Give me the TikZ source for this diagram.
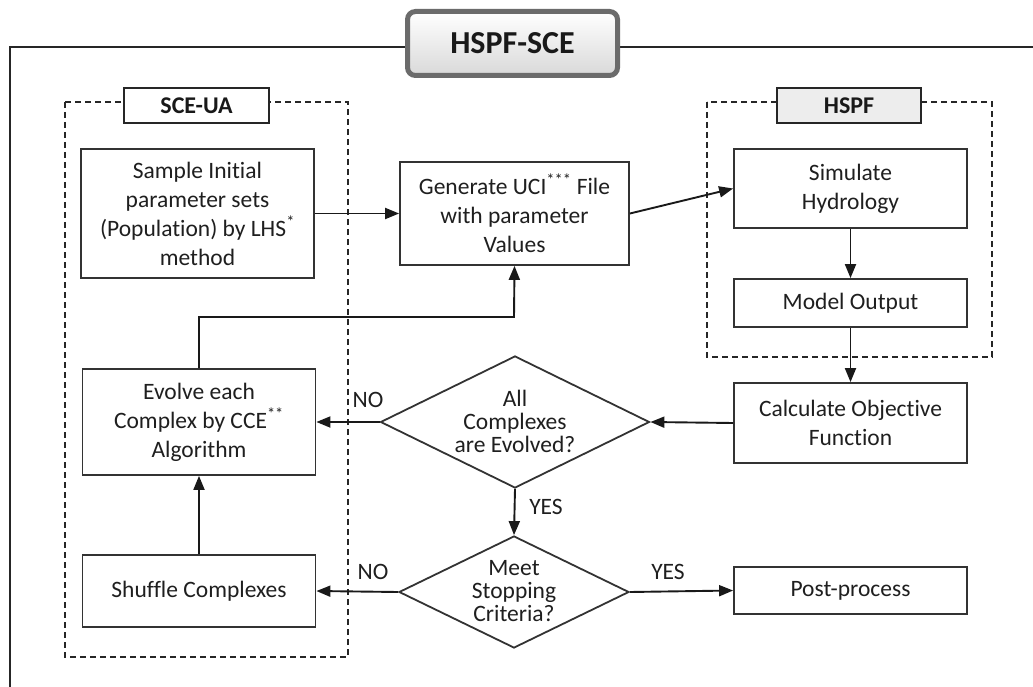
\documentclass[tikz,border=0pt]{standalone}
\usepackage{fontspec}
\setmainfont[Ligatures=NoCommon]{Carlito}
\usetikzlibrary{shapes.geometric,arrows.meta}
\begin{document}
\begin{tikzpicture}[x=1pt,y=-1pt,
  box/.style={draw=black!80, line width=1.8pt, fill=white, align=center, inner sep=0pt, text=black!88, font=\fontsize{23.5}{29}\selectfont},
  dia/.style={draw=black!80, line width=1.8pt, fill=white, diamond, inner sep=0pt},
  diatxt/.style={align=center, inner sep=0pt, text=black!88, font=\fontsize{23.5}{23}\selectfont},
  lbl/.style={inner sep=0pt, text=black!88, font=\fontsize{23.5}{29}\selectfont},
  arr/.style={-{Triangle[length=14pt,width=11pt]}, line width=1.9pt, draw=black!90},
  grp/.style={draw=black!85, line width=1.8pt, dash pattern=on 6pt off 4pt},
  tag/.style={draw=black!85, line width=2.4pt, inner sep=0pt, text=black!90, font=\bfseries\fontsize{24}{29}\selectfont}
]
\useasboundingbox (0,0) rectangle (1033,687);
% outer frame
\draw[line width=2.2pt, draw=black!85] (10,720) -- (10,47) -- (1040,47);
% title
\node[draw=black!58, line width=5pt, rounded corners=8pt, top color=white, bottom color=black!15,
      minimum width=210pt, minimum height=64pt, inner sep=0pt, text=black!90,
      font=\bfseries\fontsize{32}{38}\selectfont] (title) at (512.5,43.5) {HSPF-SCE};
% group boxes
\draw[grp] (65,102) rectangle (348,657);
\draw[grp] (707,102) rectangle (992,357);
\node[tag, fill=white, minimum width=145pt, minimum height=35pt] (tsce) at (196.5,105.5) {SCE-UA};
\node[tag, fill=black!7, minimum width=144pt, minimum height=35pt] (thspf) at (849,105.5) {HSPF};
% process boxes
\node[box, minimum width=233pt, minimum height=129pt] (sample) at (197.5,213.5) {Sample Initial\\parameter sets\\(Population) by LHS\textsuperscript{*}\\method};
\node[box, minimum width=229pt, minimum height=103pt] (gen) at (514.5,213.5) {Generate UCI\textsuperscript{***} File\\with parameter\\Values};
\node[box, minimum width=233pt, minimum height=79pt] (sim) at (850.5,188.5) {Simulate\\Hydrology};
\node[box, minimum width=233pt, minimum height=48pt] (model) at (850.5,303) {Model Output};
\node[box, minimum width=233pt, minimum height=80pt] (calc) at (850.5,423) {Calculate Objective\\Function};
\node[box, minimum width=233pt, minimum height=106pt] (evolve) at (199,422) {Evolve each\\Complex by CCE\textsuperscript{**}\\Algorithm};
\node[box, minimum width=233pt, minimum height=72pt] (shuffle) at (199,591) {Shuffle Complexes};
\node[box, minimum width=233pt, minimum height=47pt] (post) at (850.5,590.5) {Post-process};
% decisions
\node[dia, minimum width=269pt, minimum height=132pt] (d1) at (515,422) {};
\node[diatxt] (d1t) at (515,421) {All\\Complexes\\are Evolved?};
\node[dia, minimum width=230pt, minimum height=112pt] (d2) at (514,592) {};
\node[diatxt] (d2t) at (514,591) {Meet\\Stopping\\Criteria?};
% connectors
\coordinate (loopr) at (514,317);
\draw[arr] (sample.east) -- (gen.west);
\draw[arr] (gen.east) -- (sim.west);
\draw[arr] (sim.south) -- (model.north);
\draw[arr] (model.south) -- (calc.north);
\draw[arr] (calc.west) -- (d1.east);
\draw[arr] (d1.west) -- (evolve.east);
\draw[arr] (d1.south) -- (d2.north);
\draw[arr] (d2.west) -- (shuffle.east);
\draw[arr] (d2.east) -- (post.west);
\draw[arr] (shuffle.north) -- (evolve.south);
\draw[arr] (evolve.north) |- (loopr) -- (gen.south);
% labels
\node[lbl] (no1) at (368,400) {NO};
\node[lbl] (no2) at (373,572) {NO};
\node[lbl] (yes1) at (546,507) {YES};
\node[lbl] (yes2) at (668,572) {YES};
\end{tikzpicture}
\end{document}
